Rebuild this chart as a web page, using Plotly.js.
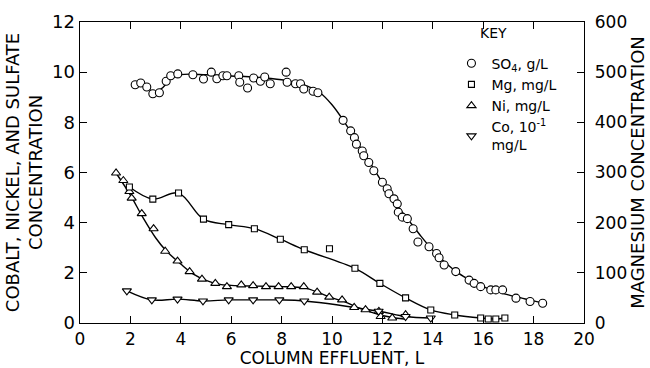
<!DOCTYPE html>
<html>
<head>
<meta charset="utf-8">
<script src="https://cdn.plot.ly/plotly-3.0.1.min.js"></script>
<style>html,body{margin:0;padding:0;background:#fff;}#chart{width:650px;height:368px;}</style>
</head>
<body>
<div id="chart"></div>
<script>
// SO4, g/L (left axis)
const so4X = [2.19,2.41,2.65,2.89,3.15,3.42,3.6,3.88,4.48,4.9,5.21,5.43,5.67,5.83,6.3,6.34,6.65,6.89,7.16,7.33,7.55,8.18,8.22,8.55,8.75,8.88,9.25,9.44,10.44,10.74,10.89,10.97,11.2,11.26,11.46,11.66,12.0,12.19,12.26,12.46,12.59,12.63,12.79,12.99,13.22,13.41,13.85,14.15,14.25,14.45,14.91,15.44,15.64,15.9,16.3,16.5,16.77,17.3,17.86,18.36];
const so4Y = [9.5,9.57,9.41,9.14,9.18,9.64,9.86,9.93,9.9,9.73,10.0,9.74,9.86,9.86,9.86,9.6,9.37,9.77,9.64,9.81,9.54,10.0,9.6,9.54,9.54,9.33,9.24,9.18,8.08,7.66,7.39,7.13,6.86,6.67,6.4,6.07,5.61,5.35,5.15,4.95,4.75,4.42,4.22,4.16,3.76,3.23,3.04,2.77,2.6,2.31,2.05,1.71,1.58,1.45,1.32,1.32,1.32,0.99,0.86,0.79];
// fitted SO4 curve
const so4CurveX = [2.2,2.6,3.0,3.3,3.6,4,5,6,7,8,8.5,9,9.5,10,10.5,11,11.5,12,12.5,13,13.5,14,14.5,15,15.5,16,16.5,17,17.5,18,18.4];
const so4CurveY = [9.55,9.4,9.2,9.4,9.75,9.9,9.9,9.85,9.8,9.7,9.6,9.45,9.2,8.7,8.0,7.2,6.4,5.6,4.8,4.15,3.5,2.9,2.4,2.0,1.7,1.45,1.28,1.12,1.0,0.88,0.8];
// Mg, mg/L (right axis)
const mgX = [1.96,2.89,3.91,4.9,5.9,6.92,7.95,8.9,9.9,10.91,11.9,12.92,13.92,14.87,15.9,16.2,16.5,16.86];
const mgY = [271,247,259,207,196,188,167,146,148,109,79,50,26,16,10,8,8,10];
// fitted Mg curve
const mgCurveX = [1.96,2.89,3.91,4.9,5.9,6.92,7.95,8.9,10.91,11.9,12.92,13.92,14.87,15.9,16.5,16.86];
const mgCurveY = [271,247,259,207,196,188,167,146,109,79,50,26,16,10,8,10];
// Ni, mg/L (left axis)
const niX = [1.43,1.72,1.96,2.05,2.45,2.92,3.38,3.87,4.35,4.84,5.37,5.83,6.4,6.87,7.38,7.88,8.38,8.88,9.41,9.89,10.4,10.88,11.33,11.86,11.93,12.39,12.92];
const niY = [5.98,5.68,5.24,4.98,4.36,3.76,2.86,2.47,2.05,1.75,1.58,1.45,1.52,1.49,1.45,1.45,1.45,1.45,1.23,1.03,0.92,0.62,0.53,0.46,0.26,0.2,0.33];
// fitted Ni curve
const niCurveX = [1.43,2.0,2.5,3.0,3.4,4.0,4.5,5.0,5.5,6.0,7.0,8.0,8.9,9.5,10.0,10.5,11.0,11.5,12.0,12.5,12.95];
const niCurveY = [5.98,5.1,4.2,3.4,2.9,2.35,1.95,1.7,1.55,1.5,1.47,1.45,1.4,1.2,1.0,0.85,0.62,0.45,0.3,0.2,0.15];
// Co, 10^-1 mg/L (left axis)
const coX = [1.86,2.85,3.87,4.88,5.9,6.87,7.91,8.9,11.85,12.92,13.92];
const coY = [1.28,0.92,0.95,0.88,0.92,0.92,0.92,0.88,0.47,0.26,0.2];

const lineStyle = {color:'#000', width:1.4, shape:'spline', smoothing:1};
const mk = (sym, size) => ({symbol:sym, size:size, color:'#fff', line:{color:'#000', width:1.1}});

const traces = [
  {x:so4CurveX, y:so4CurveY, mode:'lines', line:lineStyle, showlegend:false, hoverinfo:'skip'},
  {x:mgCurveX, y:mgCurveY, yaxis:'y2', mode:'lines', line:lineStyle, showlegend:false, hoverinfo:'skip'},
  {x:niCurveX, y:niCurveY, mode:'lines', line:lineStyle, showlegend:false, hoverinfo:'skip'},
  {x:coX, y:coY, mode:'lines', line:lineStyle, showlegend:false, hoverinfo:'skip'},
  {x:so4X, y:so4Y, mode:'markers', name:'SO<sub>4</sub>, g/L', marker:mk('circle',8)},
  {x:mgX, y:mgY, yaxis:'y2', mode:'markers', name:'Mg, mg/L', marker:mk('square',6)},
  {x:niX, y:niY, mode:'markers', name:'Ni, mg/L', marker:mk('triangle-up',8)},
  {x:coX, y:coY, mode:'markers', name:'Co, 10<sup>-1</sup><br>mg/L', marker:mk('triangle-down',8)}
];

const fam = 'DejaVu Sans, Liberation Sans, sans-serif';
const F = (s) => ({family:fam, size:s, color:'#000'});
const layout = {
  width:650, height:368,
  margin:{l:80, r:66, t:22, b:45},
  paper_bgcolor:'#fff', plot_bgcolor:'#fff',
  font:F(13),
  showlegend:true,
  legend:{
    x:0.737, y:0.915, xanchor:'left', yanchor:'top',
    bgcolor:'rgba(0,0,0,0)', borderwidth:0,
    font:F(14),
    itemwidth:30, tracegroupgap:0
  },
  annotations:[
    {text:'KEY', xref:'paper', yref:'paper', x:0.821, y:0.93, xanchor:'center', yanchor:'bottom', showarrow:false, font:F(14)}
  ],
  xaxis:{
    range:[0,20], tickvals:[0,2,4,6,8,10,12,14,16,18,20],
    ticks:'inside', ticklen:7, tickcolor:'#000', tickwidth:1,
    showline:true, linecolor:'#000', linewidth:1.4, mirror:'ticks',
    showgrid:false, zeroline:false,
    tickfont:F(17),
    title:{text:'COLUMN EFFLUENT, L', font:F(17), standoff:5}
  },
  yaxis:{
    range:[0,12], tickvals:[0,2,4,6,8,10,12],
    ticks:'inside', ticklen:7, tickcolor:'#000', tickwidth:1,
    showline:true, linecolor:'#000', linewidth:1.4,
    showgrid:false, zeroline:false,
    tickfont:F(18),
    title:{text:'COBALT, NICKEL, AND SULFATE<br>CONCENTRATION', font:F(18), standoff:4}
  },
  yaxis2:{
    range:[0,600], tickvals:[0,100,200,300,400,500,600],
    overlaying:'y', side:'right',
    ticks:'inside', ticklen:7, tickcolor:'#000', tickwidth:1,
    showline:true, linecolor:'#000', linewidth:1.4,
    showgrid:false, zeroline:false,
    ticklabelstandoff:6,
    tickfont:F(17),
    title:{text:'MAGNESIUM CONCENTRATION', font:F(18), standoff:2}
  }
};

Plotly.newPlot('chart', traces, layout, {displayModeBar:false, staticPlot:true});
</script>
</body>
</html>
